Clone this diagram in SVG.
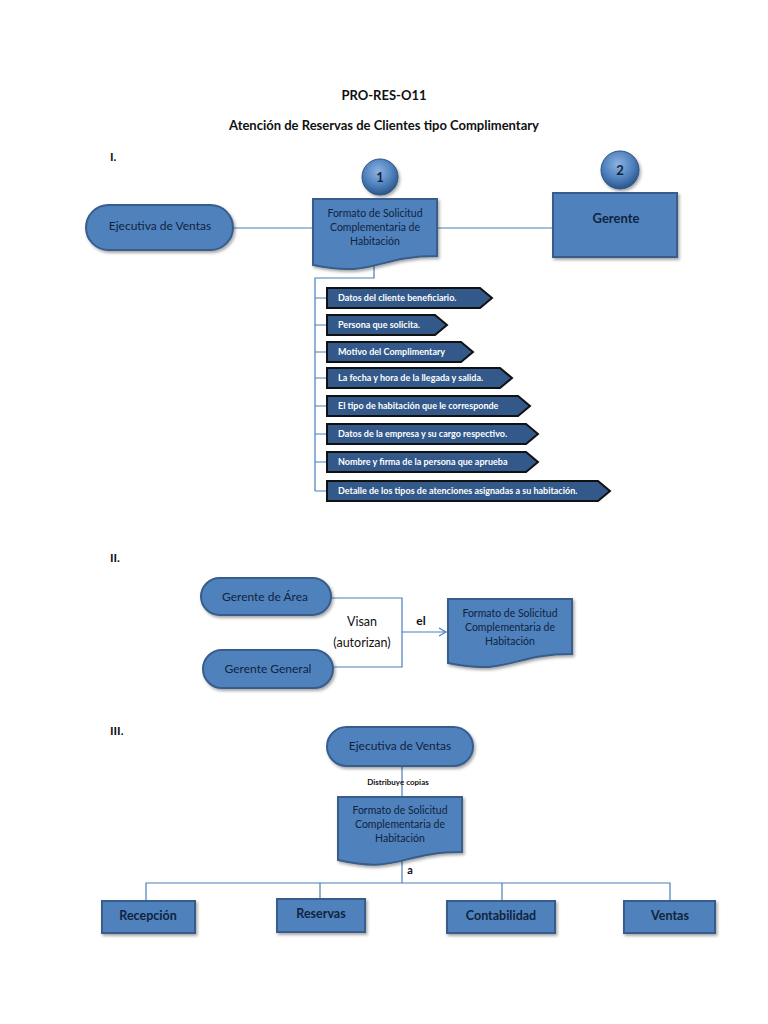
<svg xmlns="http://www.w3.org/2000/svg" width="768" height="1024" viewBox="0 0 768 1024">
  <defs>
    <filter id="sh" x="-10%" y="-10%" width="130%" height="140%">
      <feDropShadow dx="1.5" dy="2" stdDeviation="1.5" flood-color="#000" flood-opacity="0.35"/>
    </filter>
    <radialGradient id="ball" cx="45%" cy="35%" r="65%">
      <stop offset="0" stop-color="#8db3e2"/>
      <stop offset="0.6" stop-color="#4f81bd"/>
      <stop offset="1" stop-color="#2a5589"/>
    </radialGradient>
    <marker id="open" markerWidth="10" markerHeight="10" refX="8" refY="5" orient="auto" markerUnits="userSpaceOnUse">
      <path d="M1,1 L8,5 L1,9" fill="none" stroke="#4a7ebb" stroke-width="1.2"/>
    </marker>
    <style>
      .node{fill:#4f81bd;stroke:#385d8a;stroke-width:2;filter:url(#sh)}
      .pent{fill:#33598a;stroke:#111;stroke-width:2}
      .ln{fill:none;stroke:#4a7ebb;stroke-width:1.2}
      text{font-family:Lato,"Liberation Sans",sans-serif}
      .t{fill:#111;font-weight:bold;font-size:13px;text-anchor:middle}
      .sec{fill:#111;font-weight:bold;font-size:12px}
      .lbl{fill:#10243e;font-weight:bold;text-anchor:middle}
      .lbr{fill:#10243e;font-size:12px;text-anchor:middle}
      .doc{fill:#10243e;font-size:10.5px;text-anchor:middle}
      .pt{fill:#fff;font-size:9px;font-weight:bold}
      .cn{fill:#10243e;font-weight:bold;font-size:13px;text-anchor:middle}
    </style>
  </defs>

  <text class="t" x="384" y="100">PRO-RES-O11</text>
  <text class="t" x="384" y="130">Atención de Reservas de Clientes tipo Complimentary</text>
  <text class="sec" x="110" y="161">I.</text>
  <text class="sec" x="110" y="562">II.</text>
  <text class="sec" x="110" y="735">III.</text>

  <g id="connectors">
    <path class="ln" d="M233,228 H313"/>
    <path class="ln" d="M437,228 H553"/>
    <path class="ln" d="M374,263 V278 H315 V491"/>
    <path class="ln" d="M315,298 H327 M315,325 H327 M315,352 H327 M315,378 H327 M315,406 H327 M315,434 H327 M315,462 H327 M315,491 H327"/>
    <path class="ln" d="M331,598 H402 V667 H331"/>
    <path class="ln" d="M402,632 H446" marker-end="url(#open)"/>
    <path class="ln" d="M402,766 V797"/>
    <path class="ln" d="M402,860 V883"/>
    <path class="ln" d="M146,901 V883 H670 V901 M320,883 V899 M502,883 V901"/>
  </g>

  <g id="circle1">
    <circle cx="380" cy="177" r="18" fill="url(#ball)" stroke="#2c5282" stroke-width="1" filter="url(#sh)"/>
    <text class="cn" x="380" y="182">1</text>
  </g>
  <g id="circle2">
    <circle cx="620" cy="170" r="19" fill="url(#ball)" stroke="#2c5282" stroke-width="1" filter="url(#sh)"/>
    <text class="cn" x="620" y="175">2</text>
  </g>

  <g id="ejecutiva1">
    <rect class="node" x="86" y="205" width="147" height="45" rx="22.5"/>
    <text class="lbr" x="160" y="230">Ejecutiva de Ventas</text>
  </g>
  <g id="formato1">
    <path class="node" d="M313,199 H437 V256 C375,256 375,278 313,265 Z"/>
    <text class="doc" x="375" y="217">Formato de Solicitud</text>
    <text class="doc" x="375" y="231">Complementaria de</text>
    <text class="doc" x="375" y="245">Habitación</text>
  </g>
  <g id="gerente">
    <rect class="node" x="553" y="193" width="124" height="64"/>
    <text class="lbl" x="616" y="223" font-size="13">Gerente</text>
  </g>

  <g id="p1"><path class="pent" d="M327,288 H480 L492,298 L480,308 H327 Z"/><text class="pt" x="338" y="301">Datos del cliente beneficiario.</text></g>
  <g id="p2"><path class="pent" d="M327,315 H435 L447,325 L435,335 H327 Z"/><text class="pt" x="338" y="328">Persona que solicita.</text></g>
  <g id="p3"><path class="pent" d="M327,342 H461 L473,352 L461,362 H327 Z"/><text class="pt" x="338" y="355">Motivo del Complimentary</text></g>
  <g id="p4"><path class="pent" d="M327,368 H500 L512,378 L500,388 H327 Z"/><text class="pt" x="338" y="381">La fecha y hora de la llegada y salida.</text></g>
  <g id="p5"><path class="pent" d="M327,396 H518 L530,406 L518,416 H327 Z"/><text class="pt" x="338" y="409">El tipo de habitación que le corresponde</text></g>
  <g id="p6"><path class="pent" d="M327,424 H526 L538,434 L526,444 H327 Z"/><text class="pt" x="338" y="437">Datos de la empresa y su cargo respectivo.</text></g>
  <g id="p7"><path class="pent" d="M327,452 H526 L538,462 L526,472 H327 Z"/><text class="pt" x="338" y="465">Nombre y firma de la persona que aprueba</text></g>
  <g id="p8"><path class="pent" d="M327,481 H598 L610,491 L598,501 H327 Z"/><text class="pt" x="338" y="494">Detalle de los tipos de atenciones asignadas a su habitación.</text></g>

  <g id="gerenteArea">
    <rect class="node" x="201" y="578" width="130" height="37" rx="18.5"/>
    <text class="lbr" x="265" y="601">Gerente de Área</text>
  </g>
  <g id="gerenteGeneral">
    <rect class="node" x="203" y="650" width="130" height="38" rx="19"/>
    <text class="lbr" x="268" y="673">Gerente General</text>
  </g>
  <text x="362" y="626" font-size="12.5" fill="#111" text-anchor="middle">Visan</text>
  <text x="362" y="647" font-size="12.5" fill="#111" text-anchor="middle">(autorizan)</text>
  <text x="421" y="625" font-size="12" font-weight="bold" fill="#111" text-anchor="middle">el</text>
  <g id="formato2">
    <path class="node" d="M448,599 H572 V654 C510,654 510,676 448,663 Z"/>
    <text class="doc" x="510" y="617">Formato de Solicitud</text>
    <text class="doc" x="510" y="631">Complementaria de</text>
    <text class="doc" x="510" y="645">Habitación</text>
  </g>

  <g id="ejecutiva3">
    <rect class="node" x="327" y="727" width="146" height="39" rx="19.5"/>
    <text class="lbr" x="400" y="750">Ejecutiva de Ventas</text>
  </g>
  <text x="398" y="785" font-size="8" font-weight="bold" fill="#111" text-anchor="middle">Distribuye copias</text>
  <g id="formato3">
    <path class="node" d="M338,797 H462 V852 C400,852 400,874 338,860 Z"/>
    <text class="doc" x="400" y="814">Formato de Solicitud</text>
    <text class="doc" x="400" y="828">Complementaria de</text>
    <text class="doc" x="400" y="842">Habitación</text>
  </g>
  <text x="410" y="874" font-size="11" font-weight="bold" fill="#111" text-anchor="middle">a</text>

  <g id="recepcion">
    <rect class="node" x="102" y="901" width="93" height="32"/>
    <text class="lbl" x="148" y="920" font-size="12.5">Recepción</text>
  </g>
  <g id="reservas">
    <rect class="node" x="277" y="899" width="88" height="33"/>
    <text class="lbl" x="321" y="918" font-size="12.5">Reservas</text>
  </g>
  <g id="contabilidad">
    <rect class="node" x="447" y="901" width="108" height="32"/>
    <text class="lbl" x="501" y="920" font-size="12.5">Contabilidad</text>
  </g>
  <g id="ventas">
    <rect class="node" x="624" y="901" width="91" height="32"/>
    <text class="lbl" x="670" y="920" font-size="12.5">Ventas</text>
  </g>
</svg>
